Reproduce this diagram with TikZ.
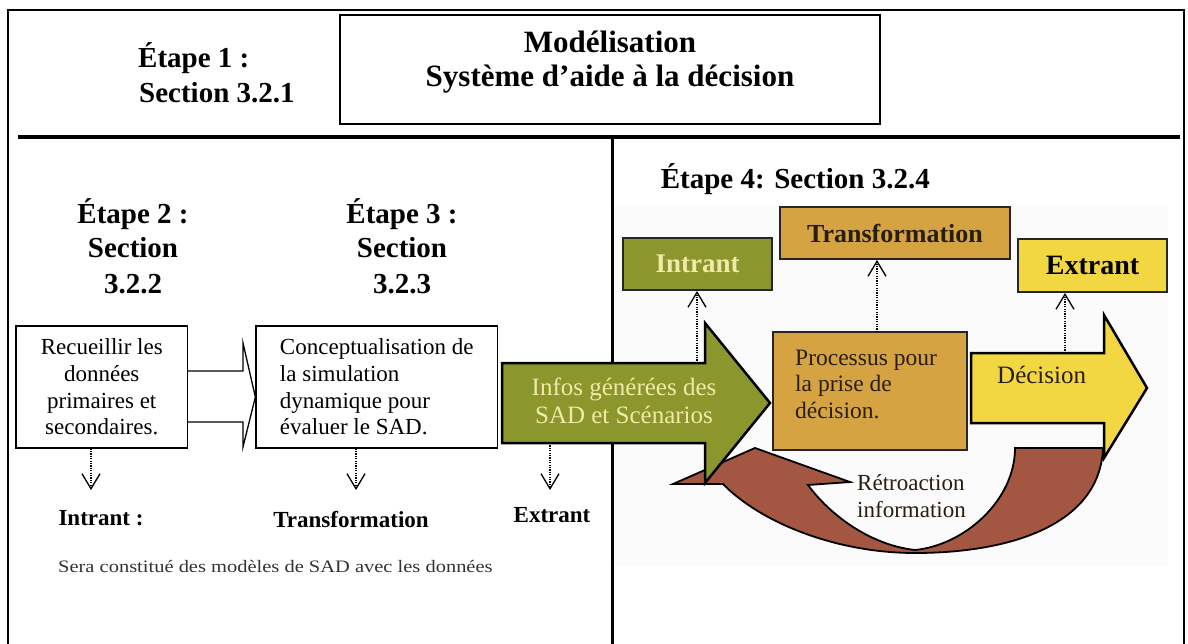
\documentclass[tikz,border=0pt]{standalone}
\usepackage{fontspec}
\setmainfont{Liberation Serif}
\usetikzlibrary{arrows.meta}

\newcommand{\setfs}[2]{\fontsize{#1pt}{#2pt}\selectfont}

\definecolor{infogreen}{RGB}{139,150,44}
\definecolor{paleyellow}{RGB}{240,234,166}
\definecolor{ochre}{RGB}{214,163,67}
\definecolor{decyellow}{RGB}{243,215,66}
\definecolor{loopbrown}{RGB}{163,86,66}
\definecolor{darkink}{RGB}{40,30,15}

\begin{document}
\begin{tikzpicture}[x=1pt,y=-1pt,
  rule/.style={line width=1.5pt},
  textbox/.style={draw, line width=1.3pt, fill=white, inner sep=0pt},
  colbox/.style={draw=black!85, line width=2pt, inner sep=0pt},
  blockarrow/.style={draw=black, line width=2.5pt, line join=miter},
  dotarrow/.style={line width=1.2pt, dash pattern=on 1.2pt off 1.2pt,
    -{Straight Barb[length=15pt,width=18pt,line width=1.3pt]}},
  heading/.style={font=\bfseries\setfs{29}{34}, inner sep=0pt},
  title/.style={font=\bfseries\setfs{31}{34}, inner sep=0pt},
  stage/.style={font=\bfseries\setfs{23}{26}, inner sep=0pt},
  body/.style={font=\setfs{23}{26.7}, inner sep=0pt},
]
\useasboundingbox (0,0) rectangle (1188,644);

% faint backdrop of the process figure
\fill[black!1.5] (615,205) rectangle (1168,565);

% outer frame, horizontal rule and column divider
\draw[rule] (8,644) -- (8,10) -- (1184,10) -- (1184,644);
\draw[line width=4pt] (18,137) -- (1180,137);
\draw[line width=3pt] (612,137) -- (612,644);

% header
\node[textbox, minimum width=540pt, minimum height=109pt] (titlebox) at (610,69.5) {};
\node[title, anchor=base] (title1) at (610,53) {Modélisation};
\node[title, anchor=base] (title2) at (610,87) {Système d’aide à la décision};
\node[heading, anchor=base west] (step1a) at (138,68) {Étape 1 :};
\node[heading, anchor=base west] (step1b) at (139,103) {Section 3.2.1};

% left column headings
\node[heading, anchor=base] (step2a) at (133,224) {Étape 2 :};
\node[heading, anchor=base] (step2b) at (133,258) {Section};
\node[heading, anchor=base] (step2c) at (133,293) {3.2.2};
\node[heading, anchor=base] (step3a) at (402,224) {Étape 3 :};
\node[heading, anchor=base] (step3b) at (402,258) {Section};
\node[heading, anchor=base] (step3c) at (402,293) {3.2.3};

% left column boxes
\node[textbox, body, align=center, minimum width=171.5pt, minimum height=122pt]
  (collect) at (101.75,387) {Recueillir les\\données\\primaires et\\secondaires.};
\node[textbox, body, align=left, minimum width=241.5pt, minimum height=122pt]
  (concept) at (376.75,387) {Conceptualisation de\\la simulation\\dynamique pour\\évaluer le SAD.};

% open block arrow between the two boxes
\draw[line width=1.3pt, line join=miter, fill=white]
  (collect.east |- 0,371) -- (243,371) -- (243,343) -- (concept.west |- 0,397)
  -- (243,447) -- (243,422) -- (collect.east |- 0,422);

% feedback loop
\draw[line width=1.8pt, fill=loopbrown, line join=miter]
  (1103,448) .. controls (1100,525) and (1010,553) .. (915,553)
  .. controls (835,553) and (760,522) .. (723,484)
  -- (673,484) -- (755,448) -- (850,482) -- (808,485)
  .. controls (830,515) and (870,545) .. (915,550)
  .. controls (965,545) and (1015,500) .. (1015,448) -- cycle;

% input arrow
\draw[blockarrow, fill=infogreen]
  (502,363) -- (705,363) -- (705,323) -- (770,403) -- (705,483) -- (705,443) -- (502,443) -- cycle;
\coordinate (infoTop) at (697,363);
\coordinate (infoBottom) at (550,443);
\node[body, align=center, text=paleyellow, font=\setfs{25}{28}] (infos) at (624,401)
  {Infos générées des\\SAD et Scénarios};

% output arrow
\draw[blockarrow, fill=decyellow]
  (971,353) -- (1104,353) -- (1104,315) -- (1147,388) -- (1104,458) -- (1104,423) -- (971,423) -- cycle;
\coordinate (decTop) at (1065,353);
\node[inner sep=0pt, font=\setfs{25}{28}, text=darkink, anchor=base west] (decision) at (997,383) {Décision};

% process box and labels
\node[colbox, fill=ochre, minimum width=194pt, minimum height=118pt] (process) at (870,391) {};
\node[inner sep=0pt, font=\setfs{23.5}{26.5}, text=darkink, align=left, anchor=north west]
  (proctext) at (795,349.5) {Processus pour\\la prise de\\décision.};
\coordinate (procTop) at (877,332);

\node[colbox, fill=infogreen, text=paleyellow, font=\bfseries\setfs{27}{30},
  minimum width=149pt, minimum height=52pt] (inbox) at (697.5,264) {Intrant};
\node[colbox, fill=ochre, text=darkink, font=\bfseries\setfs{26}{30},
  minimum width=230pt, minimum height=52pt] (transbox) at (895,233) {Transformation};
\node[colbox, fill=decyellow, text=black, font=\bfseries\setfs{28}{30},
  minimum width=149pt, minimum height=53pt] (outbox) at (1092.5,265.5) {Extrant};

\node[heading, anchor=base east] (step4) at (930,189) {Étape 4: Section 3.2.4};

\node[inner sep=0pt, font=\setfs{23}{26}, text=darkink, anchor=base west] (retro1) at (857,490) {Rétroaction};
\node[inner sep=0pt, font=\setfs{23}{26}, text=darkink, anchor=base west] (retro2) at (857,517) {information};

% dotted links in the process figure
\draw[dotarrow] (infoTop) -- (inbox.south -| infoTop);
\draw[dotarrow] (procTop) -- (transbox.south -| procTop);
\draw[dotarrow] (decTop) -- (outbox.south -| decTop);

% stage labels below the left column
\node[stage, anchor=base] (lblIn) at (101,525) {Intrant :};
\node[stage, anchor=base] (lblTrans) at (351,527) {Transformation};
\node[stage, anchor=base] (lblOut) at (552,522) {Extrant};
\coordinate (inTip) at (91,490);
\coordinate (transTip) at (356,490);
\coordinate (outTip) at (550,490);
\draw[dotarrow] (collect.south -| inTip) -- (inTip);
\draw[dotarrow] (concept.south -| transTip) -- (transTip);
\draw[dotarrow] (infoBottom) -- (outTip);

\node[inner sep=0pt, anchor=base west, text=black!80] (note) at (58,572)
  {\setfs{17.5}{20}\scalebox{1.17}[1]{Sera constitué des modèles de SAD avec les données}};
\end{tikzpicture}
\end{document}
